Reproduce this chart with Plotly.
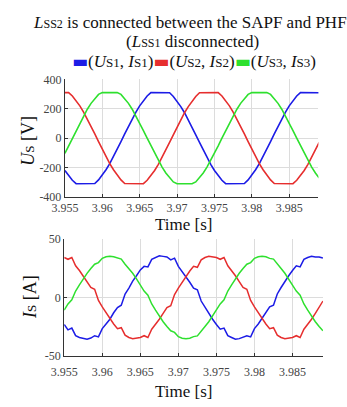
import plotly.graph_objects as go

# Sampling clock shared by all waveforms (0.5 ms steps starting at 3.955 s)
T_START = 3.955
T_STEP = 0.0005

# Source voltages U_S1, U_S2, U_S3 [V]
us1 = [-220, -257, -287, -310, -310, -310, -310, -310, -309, -284, -253, -215, -173, -126, -75, -23,
       29, 81, 131, 178, 220, 257, 287, 310, 310, 310, 310, 310, 309, 284, 253, 215, 173, 126, 75, 23,
       -29, -81, -131, -178, -220, -257, -287, -310, -310, -310, -310, -310, -309, -284, -253, -215, -173,
       -126, -75, -23, 29, 81, 131, 178, 220, 257, 287, 310, 310, 310, 310, 310, 309]
us2 = [310, 310, 287, 257, 220, 178, 131, 81, 29, -23, -75, -126, -173, -215, -253, -284, -309, -310,
       -310, -310, -310, -310, -287, -257, -220, -178, -131, -81, -29, 23, 75, 126, 173, 215, 253, 284,
       309, 310, 310, 310, 310, 310, 287, 257, 220, 178, 131, 81, 29, -23, -75, -126, -173, -215, -253,
       -284, -309, -310, -310, -310, -310, -310, -287, -257, -220, -178, -131, -81, -29]
us3 = [-104, -52, 0, 52, 104, 152, 197, 237, 271, 298, 310, 310, 310, 310, 310, 298, 271, 237, 197,
       152, 104, 52, 0, -52, -104, -152, -197, -237, -271, -298, -310, -310, -310, -310, -310, -298,
       -271, -237, -197, -152, -104, -52, 0, 52, 104, 152, 197, 237, 271, 298, 310, 310, 310, 310, 310,
       298, 271, 237, 197, 152, 104, 52, 0, -52, -104, -152, -197, -237, -271]

# Source currents I_S1, I_S2, I_S3 [A]
is1 = [-23, -27.5, -26, -32.5, -34, -35, -35.5, -34.5, -32.5, -33.5, -26.5, -22.5, -18.5, -13, -8.5,
       -6.5, 3, 8, 14, 18.5, 23.5, 26.5, 26, 32.5, 34, 35.5, 35, 34.5, 32, 33.5, 26.5, 22, 18.5, 13, 8,
       6.5, -3, -8.5, -14, -18.5, -23, -27, -26, -32.5, -34, -35.5, -35, -34, -32.5, -33.5, -26.5,
       -22.5, -18, -13.5, -8, -6.5, 3, 8.5, 14, 18.5, 23, 27, 26, 32.5, 34, 35, 34.5, 34.5, 33.5]
is2 = [34, 32.5, 34, 27, 23, 18.5, 13.5, 8.5, 7, -2.5, -8, -13, -18, -22.5, -26.5, -25.7, -32, -34,
       -35, -34.8, -34, -32.5, -34, -27, -23, -18.5, -13.5, -8.5, -7, 2.5, 8, 13, 18, 22.5, 26.5, 25.7,
       32, 34, 35, 34.8, 34, 32.5, 34, 27, 23, 18.5, 13.5, 8.5, 7, -2.5, -8, -13, -18, -22.5, -26.5,
       -25.7, -32, -34, -35, -34.8, -34, -32.5, -34, -27, -23, -18.5, -13.5, -8.5, -3]
is3 = [-10.8, -5.5, -2, 5.5, 10.8, 16, 20.5, 24.7, 28.3, 29.7, 33.3, 34.6, 35, 34.6, 33.3, 32.7, 28.3,
       24.7, 20.6, 15.9, 10.8, 5.5, 2, -5.5, -10.8, -15.9, -20.6, -24.7, -28.3, -29.7, -33.3, -34.6,
       -35, -34.6, -33.3, -32.7, -28.3, -24.7, -20.6, -15.9, -10.8, -5.5, -2, 5.5, 10.8, 15.9, 20.6,
       24.7, 28.3, 29.7, 33.3, 34.6, 35, 34.6, 33.3, 32.7, 28.3, 24.7, 20.6, 15.9, 10.8, 5.5, 2, -5.5,
       -10.8, -15.9, -20.6, -24.7, -28.3]

time_ticks = [3.955, 3.96, 3.965, 3.97, 3.975, 3.98, 3.985]
time_labels = ["3.955", "3.96", "3.965", "3.97", "3.975", "3.98", "3.985"]
u_ticks = [-400, -200, 0, 200, 400]
u_labels = ["-400", "-200", "0", "200", "400"]
i_ticks = [-50, 0, 50]
i_labels = ["-50", "0", "50"]

BLUE, RED, GREEN = "#1c1ce6", "#e62e2e", "#2ee02e"
SERIF = "Liberation Serif"
W, H = 347, 407

fig = go.Figure()
for vals, color, name in [(us1, BLUE, "Us1"), (us2, RED, "Us2"), (us3, GREEN, "Us3")]:
    fig.add_trace(go.Scatter(x0=T_START, dx=T_STEP, y=vals, mode="lines", name=name,
                             line=dict(color=color, width=1.6), xaxis="x", yaxis="y",
                             showlegend=False))
for vals, color, name in [(is1, BLUE, "Is1"), (is2, RED, "Is2"), (is3, GREEN, "Is3")]:
    fig.add_trace(go.Scatter(x0=T_START, dx=T_STEP, y=vals, mode="lines", name=name,
                             line=dict(color=color, width=1.5), xaxis="x2", yaxis="y2",
                             showlegend=False))

axis_common = dict(showline=True, linecolor="#333", linewidth=1.2, mirror=False,
                   ticks="inside", ticklen=3, tickcolor="#333",
                   showgrid=True, gridcolor="#dcdcdc", gridwidth=1, zeroline=False,
                   tickfont=dict(family=SERIF, size=12, color="#444"))

fig.update_layout(
    width=W, height=H,
    margin=dict(l=0, r=0, t=0, b=0),
    paper_bgcolor="white", plot_bgcolor="white",
    showlegend=False,
    xaxis=dict(domain=[53.9 / W, 317.3 / W], range=[3.955, 3.9889], anchor="y",
               tickvals=time_ticks, ticktext=time_labels, **axis_common),
    yaxis=dict(domain=[1 - 196.7 / H, 1 - 75 / H], range=[-400, 400], anchor="x",
               tickvals=u_ticks, ticktext=u_labels, **axis_common),
    xaxis2=dict(domain=[53.2 / W, 322 / W], range=[3.955, 3.989], anchor="y2",
                tickvals=time_ticks, ticktext=time_labels, ticklabelstandoff=4, **axis_common),
    yaxis2=dict(domain=[1 - 361.7 / H, 1 - 240 / H], range=[-50, 50], anchor="x2",
                tickvals=i_ticks, ticktext=i_labels, **axis_common),
)

sub = "<span style='font-size:12px'>{}</span>"
sub13 = "<span style='font-size:13px'>{}</span>"


def note(text, x, y, size, angle=0):
    fig.add_annotation(text=text, x=x / W, y=1 - y / H, xref="paper", yref="paper",
                       showarrow=False, textangle=angle, xanchor="center", yanchor="middle",
                       borderpad=0, font=dict(family=SERIF, size=size, color="#111"))


note("<i>L</i>" + sub.format("SS2") + " is connected between the SAPF and PHF", 184, 16, 17)
note("(<i>L</i>" + sub.format("SS1") + " disconnected)", 186, 36, 17)

swatch = "<span style='color:{};font-family:DejaVu Sans'>▬</span>"
legend_text = (swatch.format(BLUE) + "(<i>U</i>" + sub13.format("S1") + ", <i>I</i>" + sub13.format("S1") + ")"
               + swatch.format(RED) + "(<i>U</i>" + sub13.format("S2") + ", <i>I</i>" + sub13.format("S2") + ")"
               + swatch.format(GREEN) + "(<i>U</i>" + sub13.format("S3") + ", <i>I</i>" + sub13.format("S3") + ")")
note(legend_text, 188, 56, 17)

note("Time [s]", 177, 225, 17)
note("Time [s]", 177, 398, 17)
note("<i>U</i>" + sub13.format("S") + " [V]", 16, 138, 18, angle=-90)
note("<i>I</i>" + sub13.format("S") + " [A]", 17, 300, 18, angle=-90)

fig.write_html("out.html")
